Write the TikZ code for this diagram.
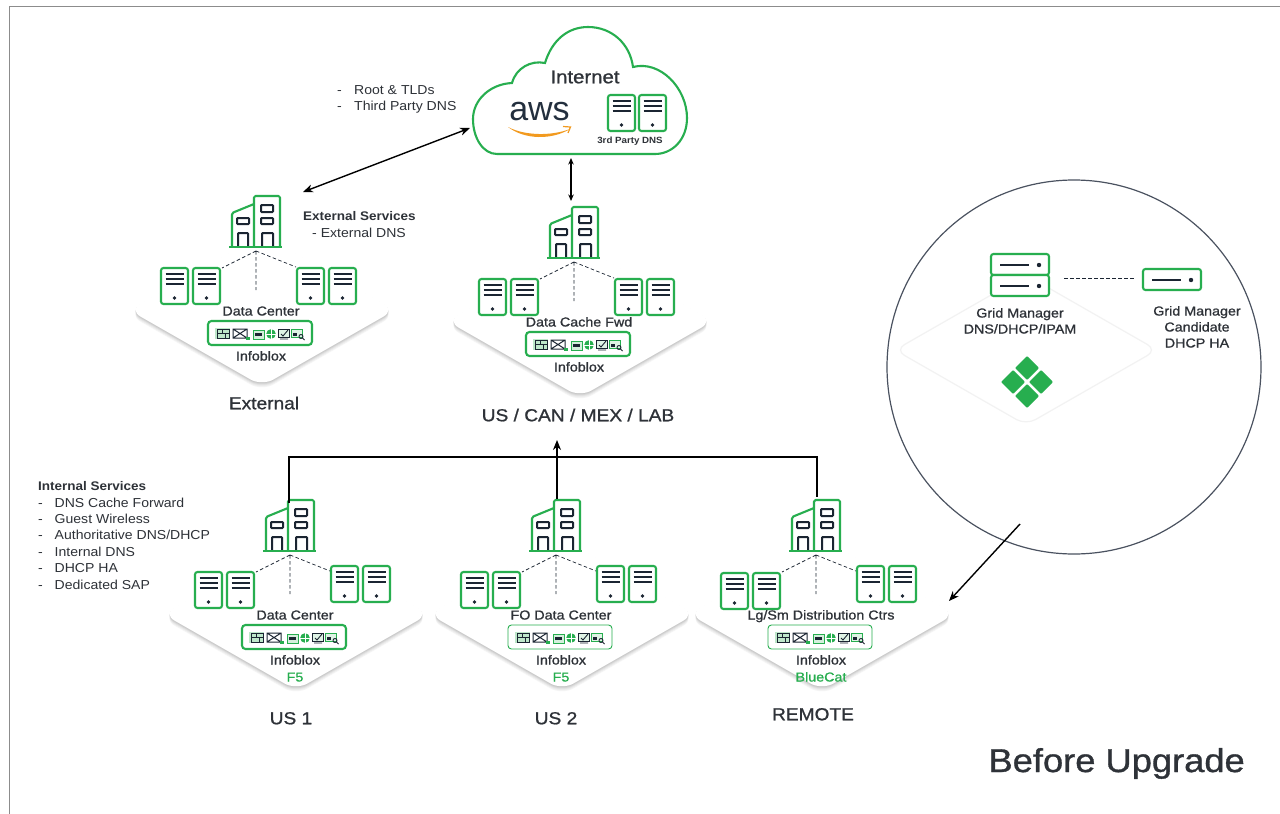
\documentclass[tikz,border=0pt]{standalone}
\usepackage{fontspec}
\setmainfont{Liberation Sans}[FakeStretch=1.08]
\newfontfamily\medf[FakeBold=1.0,FakeStretch=1.1]{Liberation Sans}
\newfontfamily\boldf[FakeStretch=1.08]{Liberation Sans Bold}
\newfontfamily\awsf{Liberation Sans}
\usetikzlibrary{arrows.meta}
\definecolor{gr}{HTML}{27AE4F}
\definecolor{dk}{HTML}{1B2532}
\definecolor{tx}{HTML}{2E3238}
\definecolor{awso}{HTML}{F29A1F}
\definecolor{awsd}{HTML}{232F3E}
\definecolor{ring}{HTML}{4A5260}
\tikzset{
  srvbox/.style={draw=gr,line width=2.1pt,rounded corners=2.5pt,fill=white},
  bar/.style={draw=dk,line width=1.9pt},
  bld/.style={draw=gr,line width=2.1pt,line join=round},
  bldin/.style={draw=dk,line width=2pt,rounded corners=0.8pt},
  dsh/.style={draw=dk,line width=0.7pt,dash pattern=on 3.5pt off 2.5pt},
  conn/.style={draw=black,line width=1.4pt},
  tip/.style={-{Stealth[length=10pt,width=8pt]}},
  tips/.style={{Stealth[length=10pt,width=8pt]}-{Stealth[length=10pt,width=8pt]}},
  tipss/.style={{Stealth[length=6.5pt,width=5.5pt]}-{Stealth[length=6.5pt,width=5.5pt]}},
  lab/.style={text=tx,inner sep=0pt,text height=9pt,text depth=0pt,font=\medf\fontsize{13}{15}\selectfont},
  plain/.style={text=tx,inner sep=0pt,text height=9pt,text depth=0pt,anchor=west,font=\fontsize{13}{15}\selectfont},
  boldl/.style={text=tx,inner sep=0pt,text height=9pt,text depth=0pt,anchor=west,font=\boldf\fontsize{12.5}{14}\selectfont},
  site/.style={text=tx,inner sep=0pt,text height=12.5pt,text depth=0pt,font=\medf\fontsize{17.4}{20}\selectfont},
  grl/.style={text=gr,inner sep=0pt,text height=9pt,text depth=0pt,font=\medf\fontsize{13}{15}\selectfont},
}
\newcommand{\srv}[2]{%
  \draw[srvbox] (#1,#2) rectangle +(27,36);
  \foreach \yy in {6,11,16}{\draw[bar] (#1+4.5,#2+\yy) -- +(18,0);}
  \fill[dk] (#1+13.5,#2+30) circle[radius=1.8];
}
\newcommand{\rack}[2]{%
  \draw[srvbox] (#1,#2) rectangle +(58,21);
  \draw[bar] (#1+9,#2+11) -- +(29,0);
  \fill[dk] (#1+48,#2+11) circle[radius=2.2];
}
\newcommand{\icons}{%
  % firewall
  \fill[gr!30] (215,328) rectangle (230,339);
  \draw[draw=dk,line width=0.9pt] (217,329.5) rectangle (229,338) (217,333.7) -- (229,333.7) (222,329.5) -- (222,333.7) (225,333.7) -- (225,338);
  % mail + lock
  \draw[draw=dk,line width=1pt] (233,329) rectangle (247,338) (233,329) -- (247,338) (233,338) -- (247,329);
  \fill[gr] (246,336.5) rectangle (250,340);
  % window
  \draw[draw=gr,line width=1pt,fill=gr!20] (253,330) rectangle (264,339);
  \fill[dk] (255,333) rectangle (262,336);
  % globe
  \fill[gr] (271,334) circle[radius=4.8];
  \draw[white,line width=0.3pt] (266,334) -- (276,334) (271,329) -- (271,339);
  % monitor
  \draw[draw=dk,line width=1pt,fill=gr!15] (278,329) rectangle (289,337);
  \draw[draw=dk,line width=0.9pt] (281,334) -- (283,336) -- (288,330) (280,339) -- (288,339);
  % browser + glass
  \draw[draw=gr,line width=1pt,fill=gr!15] (291,329) rectangle (302,337);
  \fill[dk] (293,333) rectangle (297,336);
  \draw[dk,line width=0.9pt] (301,336.5) circle[radius=2] (302.5,338) -- (304.5,340);
}
% #1 name, #2 dx, #3 dy, #4 left servers dy, #5 right servers dy, #6 label, #7 box line width
\newcommand{\sitegroup}[7]{%
\begin{scope}[shift={(#2,#3)}]
  \foreach \s/\c in {5/4,4/7,3/11,2/16,1/21}{
    \fill[black!\c,rounded corners=13pt] (129,310+\s) -- (262,234+\s) -- (395,310+\s) -- (262,386+\s) -- cycle;}
  \fill[white,rounded corners=13pt] (129,310) -- (262,234) -- (395,310) -- (262,386) -- cycle;
  \coordinate (#1-apex) at (256,251);
  \coordinate (#1-l) at (222,268);
  \coordinate (#1-m) at (256,290);
  \coordinate (#1-r) at (296,267);
  \draw[dsh] (#1-apex) -- (#1-l) (#1-apex) -- (#1-m) (#1-apex) -- (#1-r);
  % building
  \draw[bldin] (261,205) rectangle (273,212) (261,218) rectangle (273,224) (237,218) rectangle (249,224);
  \draw[bldin] (238,247) -- (238,233) -- (248,233) -- (248,247);
  \draw[bldin] (262,247) -- (262,233) -- (273,233) -- (273,247);
  \draw[bld,rounded corners=1.5pt] (254,247) -- (254,196) -- (280,196) -- (280,247);
  \draw[bld,rounded corners=1.5pt] (254,204) -- (232,213) -- (232,247);
  \draw[bld] (229,247) -- (282,247);
  \srv{161}{268+#4}\srv{193}{268+#4}\srv{297}{268+#5}\srv{329}{268+#5}
  \node[lab] (#1-label) at (261,311) {#6};
  \draw[draw=gr,line width=#7,rounded corners=3.5pt,fill=white] (208,321) rectangle (312,345);
  \icons
  \node[lab] (#1-vendor) at (261,356) {Infoblox};
\end{scope}}
\begin{document}
\begin{tikzpicture}[x=1pt,y=-1pt]
\useasboundingbox (0,0) rectangle (1280,814);
\fill[white] (0,0) rectangle (1280,814);
% frame
\draw[draw=black!45,line width=0.6pt] (1280,6) -- (9,6) -- (9,814);

% cloud
\draw[draw=gr,line width=2.1pt,fill=white] (497,154) .. controls (483,154) and (473,138) .. (473,119)
  .. controls (473,100) and (490,84) .. (512,83)
  .. controls (516,68) and (531,60) .. (545,63)
  .. controls (552,40) and (568,27) .. (588,27)
  .. controls (612,27) and (630,44) .. (633,67)
  .. controls (660,60) and (687,88) .. (687,118)
  .. controls (687,140) and (672,154) .. (655,154) -- cycle;
\node[site,font=\medf\fontsize{18.5}{20}\selectfont] (inet) at (585,77) {Internet};
\node[text=awsd,inner sep=0pt,anchor=base,font=\awsf\fontsize{34}{34}\selectfont] (aws) at (539.5,120) {aws};
\fill[awso] (508,127) .. controls (525,140) and (552,140) .. (570,129) .. controls (552,136) and (525,136) .. (508,127) -- cycle;
\draw[awso,line width=1.2pt] (563,126.5) -- (570.5,127) -- (568,133);
\srv{608}{95}\srv{639}{95}
\node[text=tx,inner sep=0pt,font=\boldf\fontsize{9}{10}\selectfont] (tp) at (630,141) {3rd Party DNS};

% sites
\sitegroup{ext}{0}{0}{0}{0}{Data Center}{2.1pt}
\sitegroup{usc}{318}{11}{0}{0}{Data Cache Fwd}{2.1pt}
\sitegroup{usa}{34}{304}{0}{-6}{Data Center}{2.1pt}
\sitegroup{usb}{300}{304}{0}{-6}{FO Data Center}{0.9pt}
\sitegroup{rem}{560}{304}{1}{-6}{Lg/Sm Distribution Ctrs}{0.9pt}
\node[grl] (f5a) at (295,677) {F5};
\node[grl] (f5b) at (561,677) {F5};
\node[grl] (bc) at (821,677) {BlueCat};

% site captions
\node[site] (cext) at (264,403) {External};
\node[site] (cusc) at (578,415) {US / CAN / MEX / LAB};
\node[site] (cusa) at (291,718) {US 1};
\node[site] (cusb) at (556,718) {US 2};
\node[site] (crem) at (813,714) {REMOTE};

% labels
\node[plain] (d1) at (337,90) {-};
\node[plain] (t1) at (354,90) {Root \& TLDs};
\node[plain] (d2) at (337,106) {-};
\node[plain] (t2) at (354,106) {Third Party DNS};
\node[boldl] (es) at (303,216) {External Services};
\node[plain] (es1) at (312,233) {- External DNS};
\node[boldl] (is) at (38,486) {Internal Services};
\foreach \yy/\tt/\nm in {503/DNS Cache Forward/a,519/Guest Wireless/b,535/Authoritative DNS\slash DHCP/c,552/Internal DNS/d,568/DHCP HA/e,585/Dedicated SAP/f}{
  \node[plain] (id\nm) at (38,\yy) {-};
  \node[plain] (it\nm) at (54.5,\yy) {\tt};
}
\node[text=tx,inner sep=0pt,anchor=base east,font=\medf\fontsize{33}{36}\selectfont] (title) at (1245,772) {Before Upgrade};

% connectors
\coordinate (a1) at (303,192); \coordinate (a2) at (470,128);
\draw[conn,tips] (a1) -- (a2);
\coordinate (b1) at (571,158); \coordinate (b2) at (571,201);
\draw[conn,tipss,line width=1.1pt] (b1) -- (b2);
\coordinate (l1) at (289,503); \coordinate (l2) at (289,457); \coordinate (l3) at (817,457); \coordinate (l4) at (817,497);
\draw[conn,line width=1.6pt] (l1) -- (l2) -- (l3) -- (l4);
\coordinate (m1) at (557,499); \coordinate (m2) at (557,440);
\draw[conn,tip,line width=1.6pt] (m1) -- (m2);

% grid circle
\node[circle,draw=ring,line width=1.2pt,minimum size=374pt,inner sep=0pt] (gcirc) at (1074,367) {};
\draw[draw=black!5,fill=white,line width=1.2pt,rounded corners=11pt] (895,350) -- (1026,275) -- (1157,350) -- (1026,425) -- cycle;
\rack{991}{254}\rack{991}{275}\rack{1143}{269}
\coordinate (g1) at (1064,278); \coordinate (g2) at (1134,278);
\draw[dsh] (g1) -- (g2);
\node[lab] (gm1) at (1020,313) {Grid Manager};
\node[lab] (gm2) at (1020,329) {DNS/DHCP/IPAM};
\node[lab] (gc1) at (1197,311) {Grid Manager};
\node[lab] (gc2) at (1197,327) {Candidate};
\node[lab] (gc3) at (1197,343) {DHCP HA};
\foreach \cx/\cy in {1027/368,1013/382,1041/382,1027/396}{
  \fill[gr,rounded corners=1pt] (\cx-12,\cy) -- (\cx,\cy-12) -- (\cx+12,\cy) -- (\cx,\cy+12) -- cycle;}
\coordinate (c1) at (1020,524); \coordinate (c2) at (949,601);
\draw[conn,tip] (c1) -- (c2);
\end{tikzpicture}
\end{document}
